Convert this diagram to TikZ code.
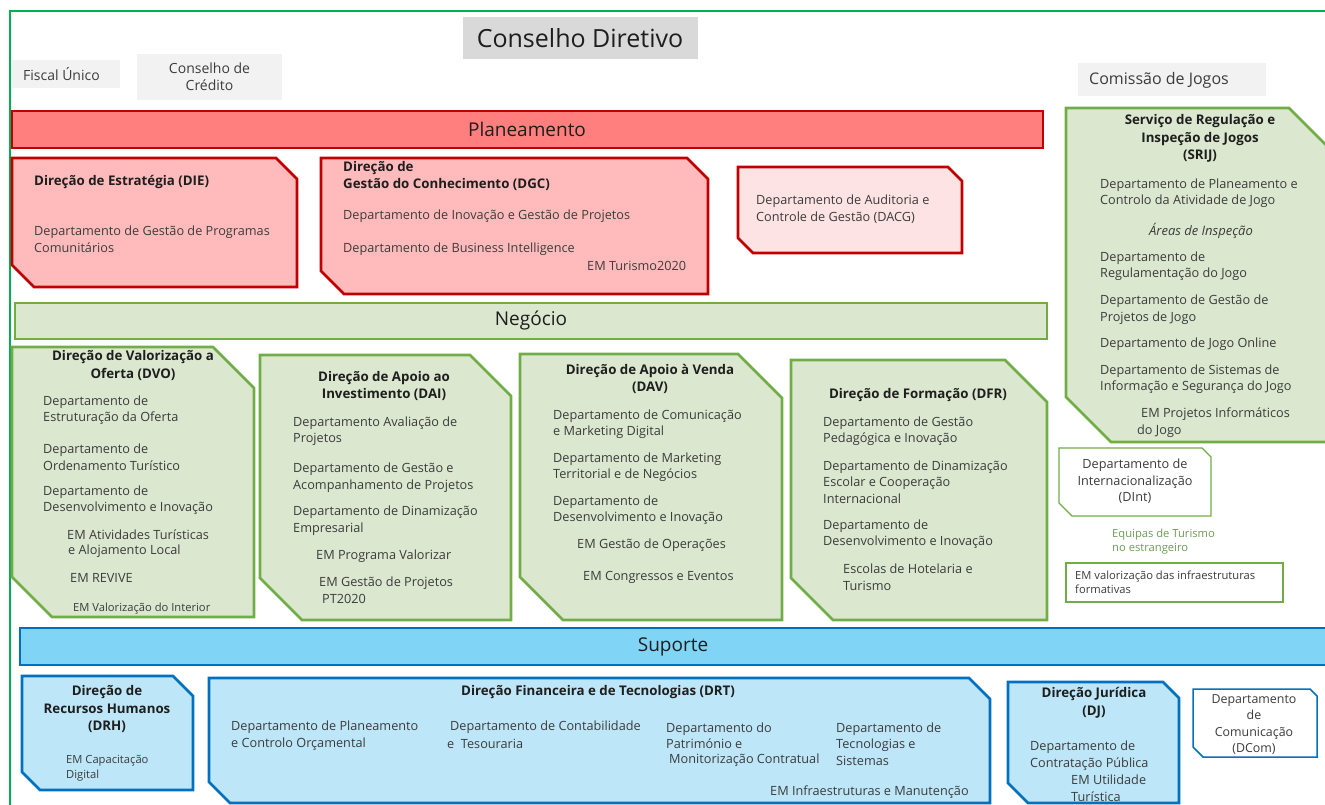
\documentclass[tikz,border=0pt]{standalone}
\usepackage{fontspec}
\setmainfont{Open Sans}
\definecolor{frame}{HTML}{00B050}
\definecolor{dred}{HTML}{C00000}
\definecolor{planf}{HTML}{FF7F7F}
\definecolor{pinkf}{HTML}{FFBBBB}
\definecolor{pinkl}{HTML}{FDE3E3}
\definecolor{dgreen}{HTML}{70AD47}
\definecolor{greenf}{HTML}{DBE7CF}
\definecolor{dblue}{HTML}{0070C0}
\definecolor{supf}{HTML}{80D4F5}
\definecolor{bluef}{HTML}{BDE6F8}
\definecolor{grayd}{HTML}{D9D9D9}
\definecolor{grayl}{HTML}{F2F2F2}
\definecolor{txtd}{HTML}{1E1E1E}
\definecolor{txt}{HTML}{3C3C3C}
\definecolor{eqgreen}{HTML}{6E9A58}
\newcommand\ocut[7]{%
  \path[#1] (#2,#3) -- ({#4-#6},#3) -- (#4,{#3+#6}) -- (#4,#5) -- ({#2+#7},#5) -- (#2,{#5-#7}) -- cycle;}
\tikzset{
  redbox/.style={draw=dred, line width=2.6pt, fill=pinkf, line join=miter},
  redlbox/.style={draw=dred, line width=2.6pt, fill=pinkl, line join=miter},
  grnbox/.style={draw=dgreen, line width=2.6pt, fill=greenf, line join=miter},
  grnthin/.style={draw=dgreen, line width=1.3pt, fill=white, line join=miter},
  blubox/.style={draw=dblue, line width=2.6pt, fill=bluef, line join=miter},
  bluthin/.style={draw=dblue, line width=1.5pt, fill=white, line join=miter},
  itm/.style={inner sep=0pt, align=left, anchor=west, font=\fontsize{12.7}{16.5}\selectfont, text=txt},
  itmc/.style={inner sep=0pt, align=center, font=\fontsize{12.7}{16.5}\selectfont, text=txt},
  sml/.style={inner sep=0pt, align=left, anchor=west, font=\fontsize{11.2}{14.5}\selectfont, text=txt},
  ttl/.style={inner sep=0pt, align=center, font=\bfseries\fontsize{13.3}{17.5}\selectfont, text=txtd},
  ttll/.style={inner sep=0pt, align=left, anchor=west, font=\bfseries\fontsize{13.3}{17.5}\selectfont, text=txtd},
  bar/.style={inner sep=0pt, font=\fontsize{19}{21}\selectfont, text=txtd},
}
\begin{document}
\begin{tikzpicture}[x=1pt,y=-1pt]
\useasboundingbox (0,0) rectangle (1325,805);
% outer frame
\draw[frame, line width=1.3pt] (10,810) -- (10,11) -- (1330,11);
% top gray boxes
\node[fill=grayd, minimum width=235pt, minimum height=42pt, inner sep=0pt, font=\fontsize{25}{27}\selectfont, text=txtd] (cd) at (580,38) {Conselho Diretivo};
\node[fill=grayl, minimum width=108pt, minimum height=28pt, inner sep=0pt] (fu) at (66,74) {};
\node[itm, font=\fontsize{14}{16.5}\selectfont] (fut) at (23,74) {Fiscal Único};
\node[fill=grayl, minimum width=145pt, minimum height=46pt, inner sep=0pt, align=center, font=\fontsize{14}{17.5}\selectfont, text=txt] (cc) at (209.5,77) {Conselho de\\Crédito};
\node[fill=grayl, minimum width=188pt, minimum height=33pt, inner sep=0pt] (cj) at (1172,79.5) {};
\node[itm, font=\fontsize{16}{18}\selectfont] (cjt) at (1089,80) {Comissão de Jogos};
% Planeamento
\path[draw=dred, line width=2.6pt, fill=planf] (12,111) rectangle (1043,148);
\node[bar] (plan) at (527,129) {Planeamento};
\ocut{redbox}{12}{158}{297}{287}{21}{22}
\node[ttll] (die) at (34,182) {Direção de Estratégia (DIE)};
\node[itm] (dgpc) at (34,239) {Departamento de Gestão de Programas\\Comunitários};
\ocut{redbox}{321}{158}{708}{294}{21}{23}
\node[ttll] (dgc) at (343,176) {Direção de\\Gestão do Conhecimento (DGC)};
\node[itm] (digp) at (343,216) {Departamento de Inovação e Gestão de Projetos};
\node[itm] (dbi) at (343,249) {Departamento de Business Intelligence};
\node[itm] (emt) at (587,266) {EM Turismo2020};
\ocut{redlbox}{738}{167}{962}{253}{14}{15}
\node[itm] (dacg) at (756,209) {Departamento de Auditoria e\\Controle de Gestão (DACG)};
% SRIJ
\ocut{grnbox}{1066}{108}{1345}{442}{56}{45}
\node[ttl] (srij) at (1200,138.5) {Serviço de Regulação e\\Inspeção de Jogos\\(SRIJ)};
\node[itm] (dpca) at (1100,193) {Departamento de Planeamento e\\Controlo da Atividade de Jogo};
\node[itmc, font=\itshape\fontsize{13}{16.5}\selectfont] (ai) at (1201,231) {Áreas de Inspeção};
\node[itm] (drj) at (1100,266) {Departamento de\\Regulamentação do Jogo};
\node[itm] (dgpj) at (1100,309.5) {Departamento de Gestão de\\Projetos de Jogo};
\node[itm] (djo) at (1100,344) {Departamento de Jogo Online};
\node[itm] (dsis) at (1100,379) {Departamento de Sistemas de\\Informação e Segurança do Jogo};
\node[itm] (empi) at (1141,414) {EM Projetos Informáticos};
\node[itm] (empi2) at (1137,431) {do Jogo};
% Negocio
\path[draw=dgreen, line width=2.6pt, fill=greenf] (15,303) rectangle (1047,339);
\node[bar] (neg) at (531,321) {Negócio};
% DVO
\ocut{grnbox}{12}{347}{254}{617}{41}{40}
\node[ttl] (dvo) at (133,365.5) {Direção de Valorização a\\Oferta (DVO)};
\node[itm] (deo) at (43,410) {Departamento de\\Estruturação da Oferta};
\node[itm] (dot) at (43,457) {Departamento de\\Ordenamento Turístico};
\node[itm] (ddi1) at (43,500) {Departamento de\\Desenvolvimento e Inovação};
\node[itm] (emat) at (67,535) {EM Atividades Turísticas};
\node[itm] (emat2) at (68,551) {e Alojamento Local};
\node[itm] (emr) at (70,578) {EM REVIVE};
\node[sml] (emvi) at (73,609) {EM Valorização do Interior};
% DAI
\ocut{grnbox}{260}{355}{511}{620}{41}{42}
\node[ttl] (dai) at (384,386) {Direção de Apoio ao\\Investimento (DAI)};
\node[itm] (dap) at (293,431) {Departamento Avaliação de\\Projetos};
\node[itm] (dgap) at (293,477.5) {Departamento de Gestão e\\Acompanhamento de Projetos};
\node[itm] (dde) at (293,520.5) {Departamento de Dinamização\\Empresarial};
\node[itm] (empv) at (316,556) {EM Programa Valorizar};
\node[itm] (emgp) at (319,583) {EM Gestão de Projetos};
\node[itm] (emgp2) at (322,599) {PT2020};
% DAV
\ocut{grnbox}{520}{354}{782}{620}{44}{43}
\node[ttl] (dav) at (650,379) {Direção de Apoio à Venda\\(DAV)};
\node[itm] (dcmd) at (553,424) {Departamento de Comunicação\\e Marketing Digital};
\node[itm] (dmtn) at (553,467) {Departamento de Marketing\\Territorial e de Negócios};
\node[itm] (ddi2) at (553,510) {Departamento de\\Desenvolvimento e Inovação};
\node[itm] (emgo) at (577,545) {EM Gestão de Operações};
\node[itm] (emce) at (583,577) {EM Congressos e Eventos};
% DFR
\ocut{grnbox}{791}{360}{1047}{620}{42}{42}
\node[ttl] (dfr) at (918,395) {Direção de Formação (DFR)};
\node[itm] (dgpi) at (823,431) {Departamento de Gestão\\Pedagógica e Inovação};
\node[itm] (ddec) at (823,482) {Departamento de Dinamização\\Escolar e Cooperação\\Internacional};
\node[itm] (ddi3) at (823,534) {Departamento de\\Desenvolvimento e Inovação};
\node[itm] (eht) at (843,577) {Escolas de Hotelaria e\\Turismo};
% DInt
\ocut{grnthin}{1059}{448}{1211}{516}{9}{13}
\node[itmc] (dint) at (1135,481.5) {Departamento de\\Internacionalização\\(DInt)};
\node[sml, text=eqgreen] (eqt) at (1112,541.5) {Equipas de Turismo\\no estrangeiro};
\path[draw=dgreen, line width=1.1pt, fill=white] (1066,563) rectangle (1283,602);
\node[sml] (emvif) at (1075,582.5) {EM valorização das infraestruturas\\formativas};
% Suporte
\path[draw=dblue, line width=2.6pt, fill=supf] (20,628) rectangle (1345,665);
\node[bar] (sup) at (673,647) {Suporte};
% DRH
\ocut{blubox}{22}{676}{193}{790}{20}{18}
\node[ttl] (drh) at (107,709) {Direção de\\Recursos Humanos\\(DRH)};
\node[sml] (emcd) at (66,768) {EM Capacitação\\Digital};
% DRT
\ocut{blubox}{209}{678}{990}{803}{21}{21}
\node[ttll] (drt) at (461,692) {Direção Financeira e de Tecnologias (DRT)};
\node[itm] (dpco) at (231,735.5) {Departamento de Planeamento\\e Controlo Orçamental};
\node[itm] (dct) at (450,727) {Departamento de Contabilidade};
\node[itm] (dct2) at (447,744) {e\ \ Tesouraria};
\node[itm] (dpmc) at (666,735.5) {Departamento do\\Património e};
\node[itm] (dpmc2) at (669,760) {Monitorização Contratual};
\node[itm] (dts) at (836,744) {Departamento de\\Tecnologias e\\Sistemas};
\node[itm] (emim) at (770,792) {EM Infraestruturas e Manutenção};
% DJ
\ocut{blubox}{1008}{682}{1179}{803}{16}{20}
\node[ttl] (dj) at (1094,703) {Direção Jurídica\\(DJ)};
\node[itm] (dcp) at (1030,755.5) {Departamento de\\Contratação Pública};
\node[itm] (emut) at (1071,788) {EM Utilidade\\Turística};
% DCom
\ocut{bluthin}{1193}{689}{1317}{757}{7}{10}
\node[itmc, font=\fontsize{12.4}{16.3}\selectfont] (dcom) at (1254,724.5) {Departamento\\de\\Comunicação\\(DCom)};
\end{tikzpicture}
\end{document}
